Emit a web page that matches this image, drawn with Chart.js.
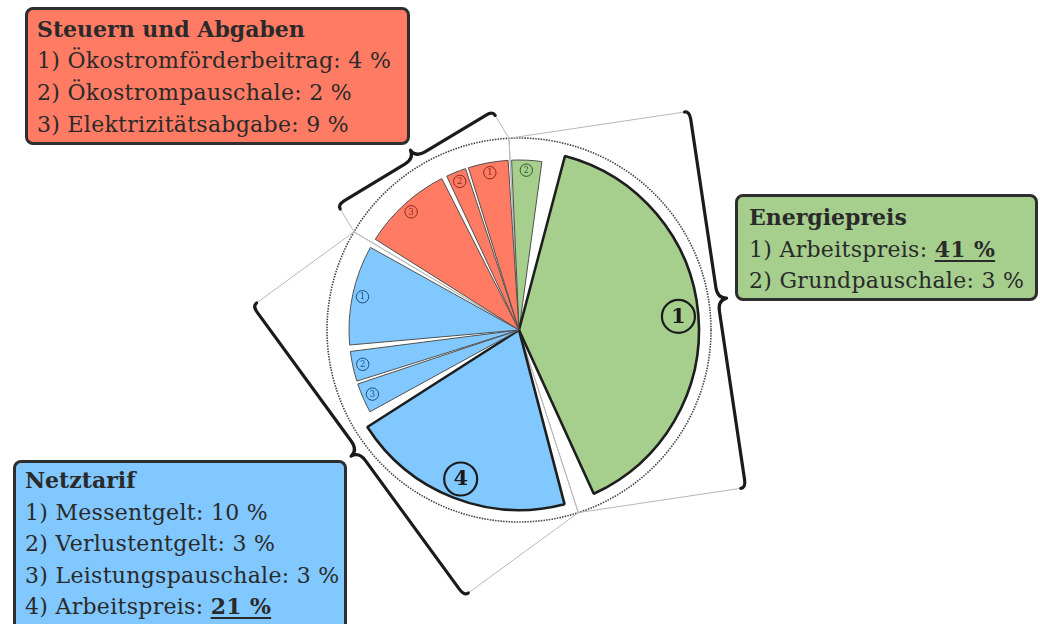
<!DOCTYPE html>
<html lang="de">
<head>
<meta charset="utf-8">
<title>Strompreis – Zusammensetzung</title>
<script src="https://cdn.jsdelivr.net/npm/chart.js@4.4.1/dist/chart.umd.min.js"></script>
<style>
  html, body { margin: 0; padding: 0; background: #ffffff; }
  #wrap { position: relative; width: 1040px; height: 624px; overflow: hidden; }
  #wrap canvas { position: absolute; left: 0; top: 0; }
  .box {
    position: absolute; box-sizing: border-box;
    border: 3px solid #2e2e2e; border-radius: 8px;
    font-family: 'DejaVu Serif', serif; font-size: 22px; line-height: 31.5px;
    letter-spacing: 0.3px; color: #2a2a2a; white-space: nowrap;
  }
  .box .title { font-weight: bold; letter-spacing: 0; }
  .box u { text-decoration-thickness: 2px; text-underline-offset: 3px; }
</style>
</head>
<body>
<div id="wrap">
  <canvas id="chart" width="1040" height="624"></canvas>
  <div class="box" id="box-steuern" style="left:25px; top:7px; width:385px; height:138px; padding:3px 0 0 9px; line-height:32px;"></div>
  <div class="box" id="box-energie" style="left:735px; top:194px; width:303px; height:107px; padding:5px 0 0 11px;"></div>
  <div class="box" id="box-netz" style="left:13px; top:460px; width:334px; height:172px; padding:2px 0 0 9px;"></div>
</div>
<script>
// Shares of the electricity price, in percent, per cost group
const groupNames = ['Energiepreis', 'Netztarif', 'Steuern und Abgaben'];

const energieItems = ['Arbeitspreis', 'Grundpauschale'];
const energieShares = [41, 3];

const netzItems = ['Messentgelt', 'Verlustentgelt', 'Leistungspauschale', 'Arbeitspreis'];
const netzShares = [10, 3, 3, 21];

const steuerItems = ['Ökostromförderbeitrag', 'Ökostrompauschale', 'Elektrizitätsabgabe'];
const steuerShares = [4, 2, 9];

// Items drawn as full-size slices and emphasised in the boxes
const keyItems = ['Arbeitspreis'];

// Styling
const groupFill = ['#A6CF8D', '#80C8FF', '#FF7B64'];
const groupInk = ['#2f5c28', '#1e4f7a', '#8a2a1b'];
const groupBoxIds = ['box-energie', 'box-netz', 'box-steuern'];
const braceTilt = [2, 2.5, 0];     // degrees, per group
const ringRadius = 192;            // dotted ring
const braceDist = 196;             // distance of brace ends from the centre
const mainRadius = 172;
const minorRadius = 162;
const numberRadius = 160;

const groupItems = [energieItems, netzItems, steuerItems];
const groupShares = [energieShares, netzShares, steuerShares];

// Fill the text boxes
groupNames.forEach((name, g) => {
  const box = document.getElementById(groupBoxIds[g]);
  box.style.background = groupFill[g];
  let html = '<div class="title">' + name + '</div>';
  groupItems[g].forEach((item, i) => {
    const val = groupShares[g][i] + '\u00a0%';
    const shown = keyItems.includes(item) ? '<b><u>' + val + '</u></b>' : val;
    html += '<div>' + (i + 1) + ') ' + item + ': ' + shown + '</div>';
  });
  box.innerHTML = html;
});

// Slice order, clockwise from the top: each group from its last item to its first
const sliceLabels = [], sliceValues = [], sliceGroup = [], sliceNumber = [], sliceMain = [];
const groupRanges = [];
groupNames.forEach((name, g) => {
  const first = sliceValues.length;
  for (let i = groupItems[g].length - 1; i >= 0; i--) {
    sliceLabels.push(name + ' – ' + groupItems[g][i]);
    sliceValues.push(groupShares[g][i]);
    sliceGroup.push(g);
    sliceNumber.push(i + 1);
    sliceMain.push(keyItems.includes(groupItems[g][i]));
  }
  groupRanges.push({ first, last: sliceValues.length - 1 });
});

function drawBrace(ctx, a, b, ux, uy) {
  const ex = b[0] - a[0], ey = b[1] - a[1];
  const L = Math.hypot(ex, ey);
  const nx = ex / L, ny = ey / L;
  const p = (s, h) => [a[0] + nx * s + ux * h, a[1] + ny * s + uy * h];
  const m = L / 2, h0 = 5, tip = 14, hook = 8;
  ctx.beginPath();
  ctx.moveTo(...p(0, 0));
  ctx.quadraticCurveTo(...p(0, h0), ...p(hook, h0));
  ctx.lineTo(...p(m - 12, h0));
  ctx.quadraticCurveTo(...p(m - 1, h0), ...p(m, tip));
  ctx.quadraticCurveTo(...p(m + 1, h0), ...p(m + 12, h0));
  ctx.lineTo(...p(L - hook, h0));
  ctx.quadraticCurveTo(...p(L, h0), ...p(L, 0));
  ctx.strokeStyle = '#1b1b1b';
  ctx.lineWidth = 3.2;
  ctx.lineJoin = 'round';
  ctx.lineCap = 'round';
  ctx.stroke();
}

// Dotted ring, group frames and braces behind the slices
const framePlugin = {
  id: 'groupFrames',
  beforeDatasetsDraw(chart) {
    const arcs = chart.getDatasetMeta(0).data;
    const cx = arcs[0].x, cy = arcs[0].y;
    const ctx = chart.ctx;
    ctx.save();
    ctx.beginPath();
    ctx.arc(cx, cy, ringRadius, 0, Math.PI * 2);
    ctx.setLineDash([1.5, 1.2]);
    ctx.lineWidth = 1.6;
    ctx.strokeStyle = '#444444';
    ctx.stroke();
    ctx.setLineDash([]);
    groupRanges.forEach((r, g) => {
      const a1 = arcs[r.first].startAngle, a2 = arcs[r.last].endAngle;
      const dir = (a1 + a2) / 2 + braceTilt[g] * Math.PI / 180;
      const ux = Math.cos(dir), uy = Math.sin(dir);
      const P = [a1, a2].map(a => [cx + ringRadius * Math.cos(a), cy + ringRadius * Math.sin(a)]);
      const Q = P.map(([px, py]) => {
        const d = braceDist - ((px - cx) * ux + (py - cy) * uy);
        return [px + ux * d, py + uy * d];
      });
      ctx.beginPath();
      P.forEach((pt, k) => {
        ctx.moveTo(cx, cy);
        ctx.lineTo(pt[0], pt[1]);
        ctx.lineTo(Q[k][0], Q[k][1]);
      });
      ctx.strokeStyle = '#b8b8b8';
      ctx.lineWidth = 1;
      ctx.stroke();
      drawBrace(ctx, Q[0], Q[1], ux, uy);
    });
    ctx.restore();
  }
};

// Detail slices are drawn with a shorter radius than the key items
const radiusPlugin = {
  id: 'sliceRadius',
  beforeDatasetDraw(chart, args) {
    args.meta.data.forEach((arc, i) => {
      arc.outerRadius = sliceMain[i] ? mainRadius : minorRadius;
    });
  }
};

// Circled item numbers inside the slices
const numberPlugin = {
  id: 'sliceNumbers',
  afterDatasetsDraw(chart) {
    const ctx = chart.ctx;
    ctx.save();
    ctx.textAlign = 'center';
    ctx.textBaseline = 'middle';
    chart.getDatasetMeta(0).data.forEach((arc, i) => {
      const mid = (arc.startAngle + arc.endAngle) / 2;
      const x = arc.x + Math.cos(mid) * numberRadius;
      const y = arc.y + Math.sin(mid) * numberRadius;
      const big = sliceMain[i];
      const ink = big ? '#1b1b1b' : groupInk[sliceGroup[i]];
      ctx.beginPath();
      ctx.arc(x, y, big ? 16.5 : 6.2, 0, Math.PI * 2);
      ctx.lineWidth = big ? 2.2 : 1;
      ctx.strokeStyle = ink;
      ctx.stroke();
      ctx.fillStyle = ink;
      ctx.font = big ? 'bold 21px "DejaVu Serif"' : '8.5px "DejaVu Serif"';
      ctx.fillText(String(sliceNumber[i]), x, y + (big ? 1 : 0.5));
    });
    ctx.restore();
  }
};

new Chart(document.getElementById('chart'), {
  type: 'pie',
  data: {
    labels: sliceLabels,
    datasets: [{
      data: sliceValues,
      backgroundColor: sliceGroup.map(g => groupFill[g]),
      borderColor: sliceMain.map(m => m ? '#1e1e1e' : '#505050'),
      borderWidth: sliceMain.map(m => m ? 2.6 : 1),
      spacing: 16
    }]
  },
  options: {
    responsive: false,
    animation: false,
    events: [],
    rotation: -3,
    radius: mainRadius,
    layout: { padding: { left: 0, right: 2, top: 36, bottom: 0 } },
    plugins: { legend: { display: false }, tooltip: { enabled: false } }
  },
  plugins: [framePlugin, radiusPlugin, numberPlugin]
});
</script>
</body>
</html>
